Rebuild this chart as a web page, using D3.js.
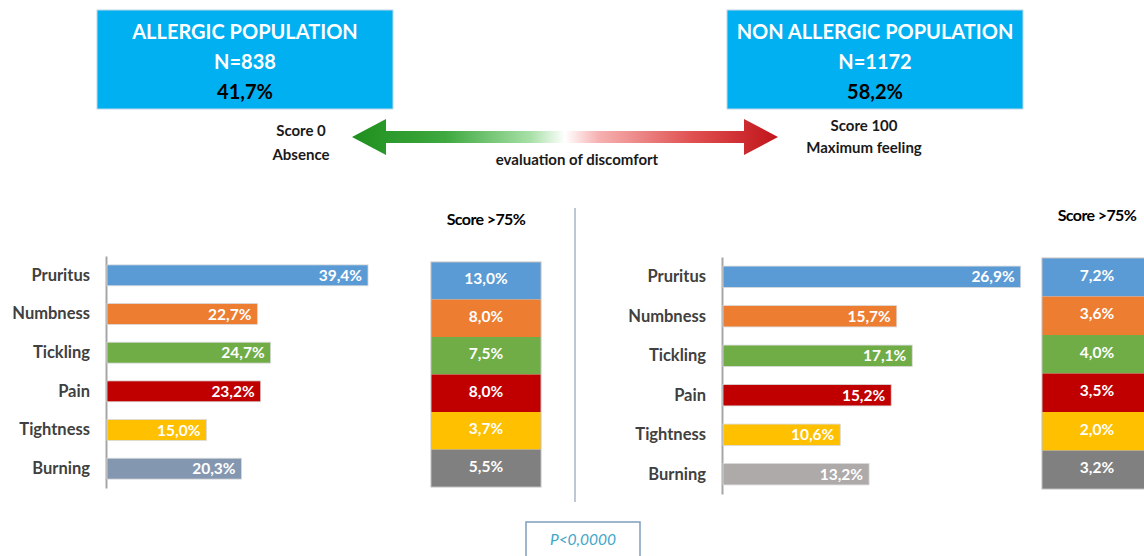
<!DOCTYPE html>
<html>
<head>
  <meta charset="utf-8">
  <title>Discomfort evaluation</title>
  <script src="https://d3js.org/d3.v7.min.js"></script>
  <style>
    body { margin: 0; background: #fff; }
    text { font-family: Lato, "Open Sans", sans-serif; }
  </style>
</head>
<body>
  <script>
    var categories = ['Pruritus', 'Numbness', 'Tickling', 'Pain', 'Tightness', 'Burning'];
    var allergicValues = [39.4, 22.7, 24.7, 23.2, 15.0, 20.3];
    var nonAllergicValues = [26.9, 15.7, 17.1, 15.2, 10.6, 13.2];
    var allergicScore = [13.0, 8.0, 7.5, 8.0, 3.7, 5.5];
    var nonAllergicScore = [7.2, 3.6, 4.0, 3.5, 2.0, 3.2];
    var barColors = ['#5B9BD5', '#ED7D31', '#70AD47', '#C00000', '#FFC000'];
    var burningLeft = '#8497B0', burningRight = '#AEAAAA', burningScore = '#808080';
    var populations = [
      { lines: ['ALLERGIC POPULATION', 'N=838', '41,7%'] },
      { lines: ['NON ALLERGIC POPULATION', 'N=1172', '58,2%'] }
    ];

    var locale = d3.formatLocale({ decimal: ',', thousands: '.', grouping: [3], currency: ['', '€'] });
    var pct = function(v) { return locale.format('.1f')(v) + '%'; };

    var svg = d3.select('body').append('svg')
      .attr('width', 1144)
      .attr('height', 556);

    // population boxes
    var boxX = [97, 727];
    populations.forEach(function(p, i) {
      var g = svg.append('g').attr('transform', 'translate(' + boxX[i] + ',10)');
      g.append('rect')
        .attr('width', 296).attr('height', 99)
        .attr('fill', '#00B0F0')
        .attr('stroke', '#BFD7E6').attr('stroke-width', 1);
      g.selectAll('text').data(p.lines).enter().append('text')
        .attr('x', 148)
        .attr('y', function(d, j) { return 29 + j * 30; })
        .attr('text-anchor', 'middle')
        .attr('font-size', 20)
        .attr('font-weight', 'bold')
        .attr('fill', function(d, j) { return j === 2 ? '#000' : '#fff'; })
        .text(function(d) { return d; });
    });

    // gradient arrow
    var grad = svg.append('defs').append('linearGradient')
      .attr('id', 'arrowGrad')
      .attr('x1', '0%').attr('x2', '100%');
    [['0%', '#1E8F1E'], ['22%', '#3FA93F'], ['42%', '#A8E0A8'], ['50%', '#FFFFFF'],
     ['58%', '#F6B0B0'], ['80%', '#E05050'], ['100%', '#C0141A']].forEach(function(s) {
      grad.append('stop').attr('offset', s[0]).attr('stop-color', s[1]);
    });
    var ax0 = 352, ax1 = 778, ay = 137, head = 34, hh = 18, sh = 6;
    svg.append('path')
      .attr('d', d3.line()([
        [ax0, ay], [ax0 + head, ay - hh], [ax0 + head, ay - sh], [ax1 - head, ay - sh],
        [ax1 - head, ay - hh], [ax1, ay], [ax1 - head, ay + hh], [ax1 - head, ay + sh],
        [ax0 + head, ay + sh], [ax0 + head, ay + hh]
      ]) + 'Z')
      .attr('fill', 'url(#arrowGrad)');

    var notes = [
      { x: 301, y: 136, t: 'Score 0' },
      { x: 301, y: 160, t: 'Absence' },
      { x: 577, y: 165, t: 'evaluation of discomfort' },
      { x: 864, y: 131, t: 'Score 100' },
      { x: 864, y: 153, t: 'Maximum feeling' }
    ];
    svg.selectAll('text.note').data(notes).enter().append('text')
      .attr('class', 'note')
      .attr('x', function(d) { return d.x; })
      .attr('y', function(d) { return d.y; })
      .attr('text-anchor', 'middle')
      .attr('font-size', 15)
      .attr('font-weight', 'bold')
      .attr('fill', '#1a1a1a')
      .text(function(d) { return d.t; });

    // divider
    svg.append('line')
      .attr('x1', 575).attr('x2', 575).attr('y1', 208).attr('y2', 502)
      .attr('stroke', '#A9B6C6').attr('stroke-width', 1.5);

    function panel(opt) {
      var x = d3.scaleLinear().domain([0, opt.max]).range([opt.x0, opt.x1]);
      var y = d3.scaleBand().domain(categories).range(opt.yr)
        .paddingInner(0.46).paddingOuter(0.23);
      var colors = barColors.concat([opt.burning]);

      var axis = svg.append('g')
        .attr('transform', 'translate(' + (opt.x0 - 1) + ',0)')
        .call(d3.axisLeft(y).tickSize(0).tickPadding(16));
      axis.select('.domain').attr('stroke', '#A6A6A6').attr('stroke-width', 2);
      axis.selectAll('text')
        .attr('font-family', 'Lato, sans-serif')
        .attr('font-size', 16.5)
        .attr('font-weight', 'bold')
        .attr('fill', '#404040');

      var bars = svg.append('g').selectAll('g').data(opt.values).enter().append('g');
      bars.append('rect')
        .attr('x', x(0))
        .attr('y', function(d, i) { return y(categories[i]); })
        .attr('width', function(d) { return x(d) - x(0); })
        .attr('height', y.bandwidth())
        .attr('fill', function(d, i) { return colors[i]; })
        .attr('stroke', '#D9D9D9').attr('stroke-width', 0.8);
      bars.append('text')
        .attr('x', function(d) { return x(d) - 6; })
        .attr('y', function(d, i) { return y(categories[i]) + y.bandwidth() / 2; })
        .attr('dy', '0.36em')
        .attr('text-anchor', 'end')
        .attr('font-size', 15.5)
        .attr('font-weight', 'bold')
        .attr('fill', '#fff')
        .text(pct);

      // score >75% column
      var sy = d3.scaleBand().domain(categories).range(opt.sr);
      var scolors = barColors.concat([burningScore]);
      svg.append('text')
        .attr('x', opt.sx + 55).attr('y', opt.sr[0] - 37)
        .attr('text-anchor', 'middle')
        .attr('font-family', '"DejaVu Sans Condensed", "DejaVu Sans", sans-serif')
        .attr('font-size', 16)
        .attr('font-weight', 'bold')
        .attr('letter-spacing', -0.6)
        .attr('fill', '#000')
        .text('Score >75%');
      var cells = svg.append('g').selectAll('g').data(opt.scores).enter().append('g');
      cells.append('rect')
        .attr('x', opt.sx)
        .attr('y', function(d, i) { return sy(categories[i]); })
        .attr('width', 110)
        .attr('height', sy.bandwidth())
        .attr('fill', function(d, i) { return scolors[i]; });
      cells.append('text')
        .attr('x', opt.sx + 55)
        .attr('y', function(d, i) { return sy(categories[i]) + sy.bandwidth() / 2 - 2; })
        .attr('dy', '0.36em')
        .attr('text-anchor', 'middle')
        .attr('font-size', 15.5)
        .attr('font-weight', 'bold')
        .attr('fill', '#fff')
        .text(pct);
      svg.append('rect')
        .attr('x', opt.sx).attr('y', opt.sr[0])
        .attr('width', 110).attr('height', opt.sr[1] - opt.sr[0])
        .attr('fill', 'none').attr('stroke', '#BFBFBF').attr('stroke-width', 1);
    }

    panel({ values: allergicValues, scores: allergicScore, max: 40, x0: 107, x1: 372,
      yr: [256, 488], burning: burningLeft, sx: 431, sr: [262, 487] });
    panel({ values: nonAllergicValues, scores: nonAllergicScore, max: 30, x0: 723, x1: 1055,
      yr: [257, 494], burning: burningRight, sx: 1042, sr: [258, 489] });

    // p-value box
    svg.append('rect')
      .attr('x', 526).attr('y', 522).attr('width', 114).attr('height', 36)
      .attr('fill', '#fff').attr('stroke', '#7F9DBF').attr('stroke-width', 1.5);
    svg.append('text')
      .attr('x', 583).attr('y', 545)
      .attr('text-anchor', 'middle')
      .attr('font-size', 15.5)
      .attr('font-style', 'italic')
      .attr('fill', '#3FA6C8')
      .text('P<0,0000');
  </script>
</body>
</html>
